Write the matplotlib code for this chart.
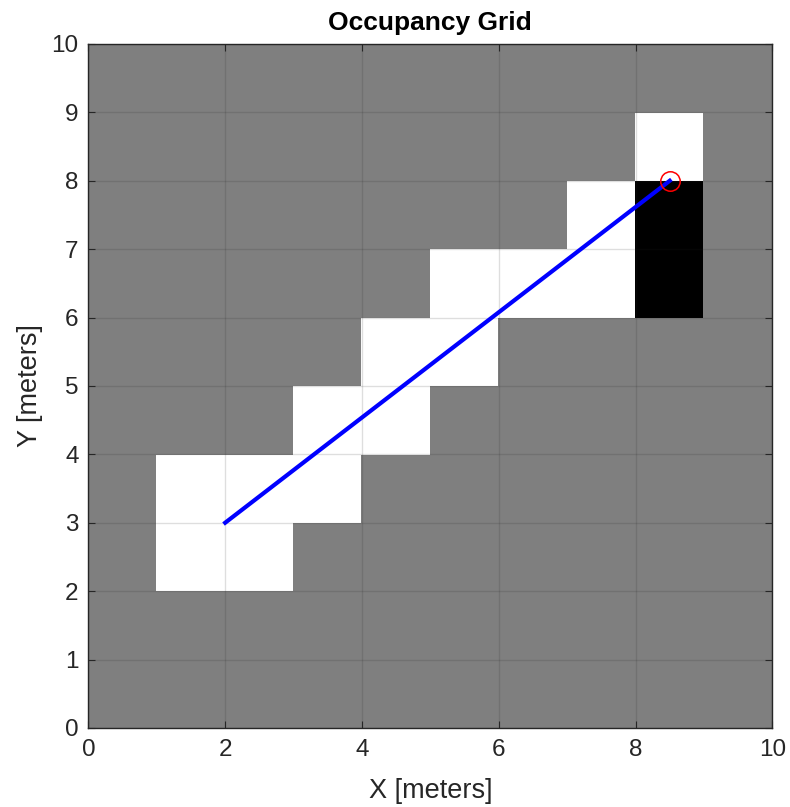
import numpy as np
import matplotlib
matplotlib.use('Agg')
from matplotlib import pyplot as plt

plt.rcParams['font.family'] = ['Liberation Sans', 'DejaVu Sans']

# occupancy probability per 1 m cell, row 0 = y in [0,1)
# 0 = free, 0.5 = unknown, 1 = occupied
occ = np.full((10, 10), 0.5)
free_cells = [(1, 2), (2, 2), (1, 3), (2, 3), (3, 3), (3, 4), (4, 4),
              (4, 5), (5, 5), (5, 6), (6, 6), (7, 6), (7, 7), (8, 8)]
occupied_cells = [(8, 6), (8, 7)]
for cx, cy in free_cells:
    occ[cy, cx] = 0.0
for cx, cy in occupied_cells:
    occ[cy, cx] = 1.0

ray_x = [2, 8.5]
ray_y = [3, 8]
hit_x = [8.5]
hit_y = [8]

fig = plt.figure(figsize=(7.9, 8.07), dpi=100)
ax = fig.add_axes([0.1085, 0.098, 0.8725, 0.8475])
ax.imshow(occ, cmap='gray_r', vmin=0, vmax=1, origin='lower',
          extent=[0, 10, 0, 10], interpolation='nearest', zorder=0)
ax.plot(ray_x, ray_y, color='#0000ff', linewidth=3, zorder=3)
ax.plot(hit_x, hit_y, 'o', markerfacecolor='none', markeredgecolor='#ff0000',
        markersize=14, markeredgewidth=1.1, zorder=4)

ax.set_xlim(0, 10)
ax.set_ylim(0, 10)
ax.set_xticks(np.arange(0, 11, 2))
ax.set_yticks(np.arange(0, 11, 1))
ax.grid(True, color='#262626', alpha=0.15, linewidth=1.0, zorder=1)
ax.set_axisbelow(False)
ax.tick_params(direction='in', length=5, width=0.8, labelsize=17.5, pad=8,
               colors='#262626', top=True, right=True, labeltop=False, labelright=False)
ax.tick_params(axis='y', pad=7)
for s in ax.spines.values():
    s.set_color('#262626')
    s.set_linewidth(1.0)
ax.set_xlabel('X [meters]', fontsize=19.5, color='#262626', labelpad=12)
ax.set_ylabel('Y [meters]', fontsize=19.5, color='#262626', labelpad=6)
ax.set_title('Occupancy Grid', fontsize=19, fontweight='bold', color='black', pad=10)

fig.savefig('out.png', dpi=100)
